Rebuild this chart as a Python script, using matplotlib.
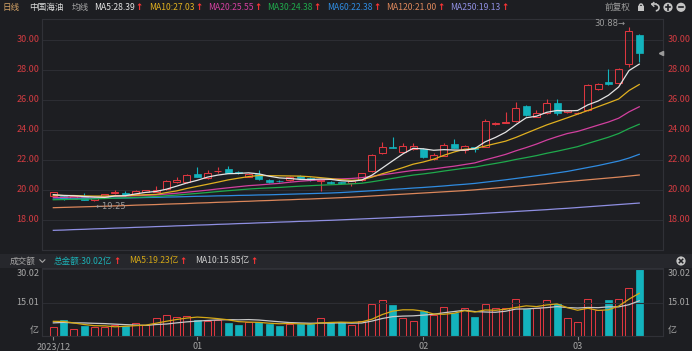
import matplotlib
matplotlib.use("Agg")
import matplotlib.pyplot as plt
from matplotlib.patches import Rectangle, Circle, Arc
import matplotlib.transforms as mtrans
import numpy as np
import pandas as pd

plt.rcParams['font.family'] = ['Noto Sans CJK SC', 'DejaVu Sans']

# 中国海油 日线, 2023/12/12 .. 2024/03/11
opens = [19.60, 19.62, 19.42, 19.58, 19.30, 19.56, 19.78, 19.82, 19.72, 19.87,
         19.88, 20.05, 20.50, 20.50, 21.04, 20.80, 21.27, 21.38, 21.20, 20.90,
         21.08, 20.68, 20.62, 20.64, 20.91, 20.80, 20.60, 20.56, 20.50, 20.49,
         20.67, 21.25, 22.49, 22.85, 22.56, 22.71, 22.73, 22.07, 22.27, 23.07,
         22.67, 22.84, 22.89, 24.40, 24.47, 24.60, 25.60, 24.90, 25.10, 25.80,
         25.20, 25.10, 25.33, 26.71, 27.18, 27.11, 28.40, 30.33]
closes = [19.85, 19.38, 19.58, 19.36, 19.48, 19.72, 19.88, 19.66, 19.95, 20.00,
          20.03, 20.63, 20.68, 21.00, 20.89, 21.10, 21.30, 21.14, 21.10, 21.08,
          20.75, 20.52, 20.58, 20.90, 20.79, 20.68, 20.70, 20.47, 20.44, 20.60,
          21.11, 22.33, 22.84, 22.82, 22.93, 22.96, 22.18, 22.35, 23.03, 22.80,
          22.92, 22.70, 24.60, 24.48, 24.55, 25.45, 25.00, 25.12, 25.78, 25.15,
          25.30, 25.15, 27.00, 27.07, 27.06, 28.07, 30.60, 29.15]
highs = [19.88, 19.66, 19.62, 19.78, 19.50, 19.75, 20.00, 19.93, 20.00, 20.03,
         20.24, 20.70, 20.86, 21.05, 21.50, 21.30, 21.52, 21.60, 21.24, 21.12,
         21.30, 20.72, 20.70, 20.95, 21.00, 20.84, 20.75, 20.60, 20.56, 20.64,
         21.15, 22.40, 23.18, 23.50, 23.15, 23.10, 22.80, 22.45, 23.15, 23.38,
         23.00, 22.88, 24.70, 24.55, 25.20, 25.90, 25.65, 25.30, 26.07, 26.05,
         25.35, 25.20, 27.05, 27.12, 28.07, 28.12, 30.88, 30.40]
lows = [19.55, 19.35, 19.40, 19.34, 19.25, 19.54, 19.76, 19.60, 19.70, 19.85,
        19.86, 20.02, 20.45, 20.48, 20.86, 20.76, 21.12, 21.10, 21.05, 20.85,
        20.70, 20.48, 20.50, 20.60, 20.76, 20.62, 19.92, 20.42, 20.40, 20.27,
        20.62, 21.20, 22.40, 22.78, 22.50, 22.66, 22.14, 22.00, 22.24, 22.78,
        22.45, 22.50, 22.85, 24.35, 24.44, 24.55, 24.95, 24.85, 25.05, 25.00,
        25.15, 25.05, 25.28, 26.66, 27.02, 27.05, 28.20, 28.55]
# 成交额 (亿)
amounts = [4.2, 7.3, 3.3, 4.5, 3.9, 3.9, 5.1, 4.5, 5.9, 5.1,
           8.2, 9.5, 8.5, 9.1, 7.3, 6.8, 7.4, 5.9, 5.0, 6.2,
           6.2, 5.5, 4.7, 5.5, 5.5, 5.5, 8.2, 5.8, 6.2, 4.9,
           6.8, 14.2, 16.2, 13.8, 8.0, 6.7, 11.4, 9.6, 13.2, 10.4,
           12.4, 8.4, 14.2, 12.5, 12.7, 16.5, 12.0, 12.5, 16.2, 15.0,
           8.15, 6.2, 16.8, 11.5, 16.33, 16.5, 21.8, 30.02]
# closes / amounts before the window (feed the short moving averages)
prev_closes = [18.95, 19.02, 19.10, 18.98, 19.05, 19.12, 19.00, 19.08, 19.15, 19.05,
               19.20, 19.28, 19.25, 19.35, 19.32, 19.40, 19.38, 19.45, 19.42, 19.45,
               19.55, 19.60, 19.62, 19.58, 19.70, 19.65, 19.68, 19.62, 19.65]
prev_amounts = [5.0, 5.5, 4.8, 5.6, 5.1, 7.5, 6.8, 7.9, 6.6]
# long averages
ma60 = [19.40, 19.41, 19.42, 19.43, 19.44, 19.45, 19.46, 19.47, 19.48, 19.50,
        19.51, 19.53, 19.54, 19.56, 19.58, 19.59, 19.61, 19.62, 19.64, 19.65,
        19.67, 19.68, 19.70, 19.72, 19.74, 19.76, 19.78, 19.80, 19.83, 19.87,
        19.91, 19.95, 19.99, 20.04, 20.08, 20.13, 20.17, 20.22, 20.27, 20.33,
        20.38, 20.44, 20.52, 20.60, 20.68, 20.77, 20.86, 20.95, 21.04, 21.14,
        21.24, 21.37, 21.50, 21.63, 21.78, 21.93, 22.13, 22.38]
ma120 = [18.82, 18.84, 18.86, 18.88, 18.90, 18.92, 18.94, 18.96, 18.99, 19.01,
         19.03, 19.06, 19.08, 19.10, 19.13, 19.15, 19.18, 19.20, 19.23, 19.25,
         19.28, 19.30, 19.33, 19.35, 19.38, 19.40, 19.43, 19.46, 19.49, 19.52,
         19.56, 19.60, 19.64, 19.68, 19.72, 19.76, 19.80, 19.84, 19.88, 19.92,
         19.96, 20.01, 20.07, 20.13, 20.19, 20.25, 20.31, 20.37, 20.43, 20.50,
         20.56, 20.62, 20.68, 20.74, 20.80, 20.86, 20.93, 21.00]
ma250 = [17.31, 17.33, 17.36, 17.38, 17.41, 17.43, 17.46, 17.48, 17.51, 17.53,
         17.56, 17.58, 17.61, 17.63, 17.66, 17.68, 17.71, 17.73, 17.76, 17.78,
         17.81, 17.83, 17.86, 17.88, 17.91, 17.93, 17.96, 17.98, 18.01, 18.04,
         18.07, 18.10, 18.13, 18.16, 18.19, 18.22, 18.25, 18.28, 18.31, 18.34,
         18.37, 18.41, 18.45, 18.49, 18.53, 18.57, 18.61, 18.65, 18.69, 18.74,
         18.78, 18.83, 18.88, 18.93, 18.98, 19.03, 19.08, 19.13]
month_idx = [0, 14, 36, 51]
month_labels = ['2023/12', '01', '02', '03']
price_ticks = [18, 20, 22, 24, 26, 28, 30]

BG = '#1d1e22'
GRID = '#2c2d33'
UP = '#dc363f'
DN = '#13b3bd'
RED_TXT = '#d23b41'
GRAY = '#a6a6a6'
ma_colors = {'MA5': '#e4e4e4', 'MA10': '#e0b020', 'MA20': '#d2409f',
             'MA30': '#1faa4c', 'MA60': '#2f8be0', 'MA120': '#dc875b', 'MA250': '#8f8fe2'}

o = np.array(opens); c = np.array(closes); h = np.array(highs); l = np.array(lows)
x = np.arange(len(c))
up = c >= o

cs = pd.Series(prev_closes + closes)
n0 = len(prev_closes)
mas = {'MA5': cs.rolling(5).mean().to_numpy()[n0:],
       'MA10': cs.rolling(10).mean().to_numpy()[n0:],
       'MA20': cs.rolling(20).mean().to_numpy()[n0:],
       'MA30': cs.rolling(30).mean().to_numpy()[n0:],
       'MA60': np.array(ma60), 'MA120': np.array(ma120), 'MA250': np.array(ma250)}
vs = pd.Series(prev_amounts + amounts)
m0 = len(prev_amounts)
vma5 = vs.rolling(5).mean().to_numpy()[m0:]
vma10 = vs.rolling(10).mean().to_numpy()[m0:]

W, H = 692, 351
fig = plt.figure(figsize=(W / 100, H / 100), dpi=100, facecolor=BG)

def box(left, top, right, bottom):
    return [left / W, 1 - bottom / H, (right - left) / W, (bottom - top) / H]

ax = fig.add_axes(box(41.7, 19, 662.7, 250), facecolor=BG)
axv = fig.add_axes(box(41.7, 268, 662.7, 336), facecolor=BG)
xlim = (-1.13, 59.28)

# ---- candles
bw = 0.68
for i in x:
    if up[i]:
        ax.add_patch(Rectangle((i - bw / 2, o[i]), bw, max(c[i] - o[i], 0.03),
                               fill=False, ec=UP, lw=0.75, zorder=2))
        ax.vlines(i, c[i], h[i], color=UP, lw=0.8, zorder=2)
        ax.vlines(i, l[i], o[i], color=UP, lw=0.8, zorder=2)
    else:
        ax.vlines(i, l[i], h[i], color=DN, lw=0.8, zorder=2)
        ax.add_patch(Rectangle((i - bw / 2, c[i]), bw, max(o[i] - c[i], 0.03),
                               fc=DN, ec=DN, lw=0.5, zorder=2))

for name in ['MA250', 'MA120', 'MA60', 'MA30', 'MA20', 'MA10', 'MA5']:
    ax.plot(x, mas[name], color=ma_colors[name], lw=0.9, zorder=3)

ax.set_xlim(*xlim)
ax.set_ylim(16.0, 31.4)
ax.set_xticks([])
ax.set_yticks(price_ticks)
ax.tick_params(axis='y', length=0, labelleft=False, labelright=False)
ax.grid(axis='y', color=GRID, lw=0.8)
for s in ax.spines.values():
    s.set_color('#303137'); s.set_linewidth(0.8)

tr = mtrans.blended_transform_factory(ax.transAxes, ax.transData)
for v in price_ticks:
    ax.text(-0.004, v, f'{v:.2f}', transform=tr, ha='right', va='center',
            fontsize=6.5, color=RED_TXT)
    ax.text(1.008, v, f'{v:.2f}', transform=tr, ha='left', va='center',
            fontsize=6.5, color=RED_TXT)

ilo = int(np.argmin(l)); ihi = int(np.argmax(h))
ax.text(ilo + 0.15, l[ilo] - 0.05, f'\u2190{l[ilo]:.2f}', ha='left', va='top',
        fontsize=6, color='#9c9c9c', family=['DejaVu Sans'])
ax.text(ihi - 0.35, h[ihi] + 0.25, f'{h[ihi]:.2f}\u2192', ha='right', va='center',
        fontsize=6, color='#9c9c9c', family=['DejaVu Sans'])
ax.plot([xlim[1] - 0.12], [c[-1]], marker='<', ms=3, color='#9a9a9a', clip_on=False, zorder=5)

# ---- amount panel
axv.bar(x[up], np.array(amounts)[up], width=bw, fill=False, edgecolor=UP, lw=0.75)
axv.bar(x[~up], np.array(amounts)[~up], width=bw, color=DN, edgecolor=DN, lw=0.5)
axv.plot(x, vma10, color='#c8c8c8', lw=0.9)
axv.plot(x, vma5, color='#d4a816', lw=0.9)
vmax = max(amounts)
axv.set_xlim(*xlim)
axv.set_ylim(0, vmax * 1.02)
axv.set_yticks([vmax / 2, vmax])
axv.grid(axis='y', color=GRID, lw=0.8)
axv.tick_params(axis='y', length=0, labelleft=False)
axv.set_xticks(month_idx)
axv.set_xticklabels(month_labels)
axv.tick_params(axis='x', length=3, width=0.8, color='#8a8a8a', labelcolor=GRAY,
                labelsize=6.5, pad=1.5)
for s in axv.spines.values():
    s.set_color('#303137'); s.set_linewidth(0.8)
trv = mtrans.blended_transform_factory(axv.transAxes, axv.transData)
for xa, ha in [(-0.004, 'right'), (1.008, 'left')]:
    axv.text(xa, vmax, f'{vmax:.2f}', transform=trv, ha=ha, va='top', fontsize=6.5, color=GRAY)
    axv.text(xa, vmax / 2, f'{vmax / 2:.2f}', transform=trv, ha=ha, va='center', fontsize=6.5, color=GRAY)
    axv.text(xa, 2.5, '亿', transform=trv, ha=ha, va='center', fontsize=6.5, color=GRAY)

# ---- overlay: header rows and icons (pixel coordinates)
ov = fig.add_axes([0, 0, 1, 1], zorder=10)
ov.set_xlim(0, W); ov.set_ylim(H, 0); ov.axis('off'); ov.patch.set_alpha(0)
ov.add_patch(Rectangle((0, 253.5), W, 14, fc='#26272c', ec='none'))

renderer = fig.canvas.get_renderer()
FS = 6.2

def put(xp, yp, s, col, fs=FS, arrow=False):
    """Draw a text (and optional red arrow); return the x where it ends."""
    t = ov.text(xp, yp, s, color=col, fontsize=fs, ha='left', va='center')
    bb = t.get_window_extent(renderer=renderer)
    xe = ov.transData.inverted().transform((bb.x1, bb.y0))[0]
    if arrow:
        a = ov.text(xe + 0.6, yp, '\u2191', color='#ff3535', fontsize=fs, ha='left',
                    va='center', family=['DejaVu Sans'], fontweight='bold')
        bb = a.get_window_extent(renderer=renderer)
        xe = ov.transData.inverted().transform((bb.x1, bb.y0))[0]
    return xe

put(3, 7.5, '日线', '#d6a466')
put(29, 7.5, '中国海油', '#dedede')
xp = put(72, 7.5, '均线', '#a8a8a8') + 5
for name in ['MA5', 'MA10', 'MA20', 'MA30', 'MA60', 'MA120', 'MA250']:
    xp = put(xp, 7.5, f'{name}:{mas[name][-1]:.2f}', ma_colors[name], arrow=True) + 6
put(605, 7.5, '前复权', '#a0a0a0')

icon = '#c4c4c4'
ov.add_patch(Rectangle((638.2, 6.3), 5.6, 4.8, fc=icon, ec='none'))
ov.add_patch(Arc((641, 6.5), 3.6, 5.0, theta1=180, theta2=360, color=icon, lw=1.1))
ov.add_patch(Arc((655.8, 7.6), 6.4, 6.4, theta1=-90, theta2=90, color=icon, lw=1.2))
ov.plot([655.8, 652.0], [4.4, 4.4], color=icon, lw=1.2)
ov.plot([653.8, 651.8, 653.8], [2.6, 4.4, 6.2], color=icon, lw=1.0)
for cx, plus in [(668, True), (681, False)]:
    ov.add_patch(Circle((cx, 7.3), 4.6, fc=icon, ec='none'))
    ov.plot([cx - 2.4, cx + 2.4], [7.3, 7.3], color=BG, lw=1.2)
    if plus:
        ov.plot([cx, cx], [4.9, 9.7], color=BG, lw=1.2)

xe = put(10, 261, '成交额', '#a6a6a6')
ov.plot([xe + 4, xe + 6.5, xe + 9], [259.8, 262.3, 259.8], color='#a6a6a6', lw=0.8)
xp = max(54, xe + 18)
for label, col in [(f'总金额:{amounts[-1]:.2f}亿', '#1cb3b8'),
                   (f'MA5:{vma5[-1]:.2f}亿', '#d4a816'),
                   (f'MA10:{vma10[-1]:.2f}亿', '#cfcfcf')]:
    xp = put(xp, 261, label, col, arrow=True) + 9
ov.add_patch(Circle((681, 261), 4.6, fc=icon, ec='none'))
ov.plot([679.3, 682.7], [259.3, 262.7], color=BG, lw=1.1)
ov.plot([679.3, 682.7], [262.7, 259.3], color=BG, lw=1.1)

fig.savefig('out.png', dpi=100, facecolor=BG)
